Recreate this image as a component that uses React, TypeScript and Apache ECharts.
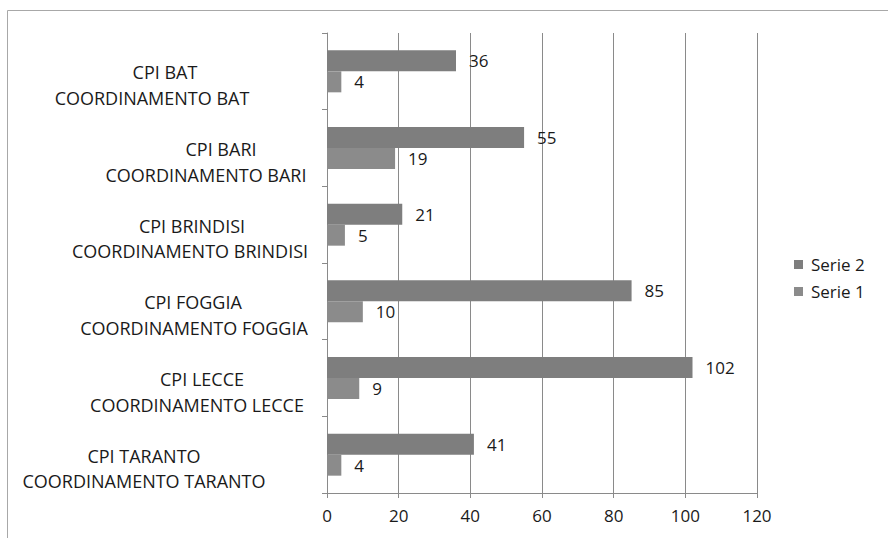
import React, { useEffect, useRef } from "react";
import * as echarts from "echarts";

// Categories listed bottom-to-top (ECharts category y axis starts at the bottom)
const categories: string[] = [
  "CPI TARANTO\nCOORDINAMENTO TARANTO",
  "CPI LECCE\nCOORDINAMENTO LECCE",
  "CPI FOGGIA\nCOORDINAMENTO FOGGIA",
  "CPI BRINDISI\nCOORDINAMENTO BRINDISI",
  "CPI BARI\nCOORDINAMENTO BARI",
  "CPI BAT\nCOORDINAMENTO BAT",
];
const serie1: number[] = [4, 9, 10, 5, 19, 4];
const serie2: number[] = [41, 102, 85, 21, 55, 36];
const seriesNames: string[] = ["Serie 1", "Serie 2"];
const xTicks: number[] = [0, 20, 40, 60, 80, 100, 120];

// styling: right padding of each label line (shifts the centred line left)
const linePad: [number, number][] = [
  [172, 172],
  [56, 66],
  [74, 72],
  [76, 80],
  [18, 48],
  [130, 156],
];

const FONT = "'Open Sans', 'Noto Sans', sans-serif";
const TXT = "#1a1a1a";

export default function App() {
  const ref = useRef<HTMLDivElement>(null);
  useEffect(() => {
    if (!ref.current) return;
    const chart = echarts.init(ref.current, undefined, { renderer: "svg" });
    const rich: Record<string, any> = {};
    linePad.forEach((p, i) => {
      rich["a" + i] = {
        fontSize: 18,
        fontFamily: FONT,
        color: TXT,
        lineHeight: 2,
        align: "center",
        padding: [0, p[0], 0, 0],
      };
      rich["b" + i] = {
        fontSize: 18,
        fontFamily: FONT,
        color: TXT,
        lineHeight: 49,
        align: "center",
        padding: [0, p[1], 0, 0],
      };
    });
    const barLabel = {
      show: true,
      position: "right",
      distance: 13,
      fontSize: 17,
      fontFamily: FONT,
      color: TXT,
    };
    chart.setOption({
      animation: false,
      backgroundColor: "#ffffff",
      textStyle: { fontFamily: FONT },
      graphic: [
        {
          type: "rect",
          shape: { x: 7.5, y: 10.5, width: 900, height: 600 },
          style: { fill: "none", stroke: "#a8a8a8", lineWidth: 1 },
          silent: true,
        },
      ],
      grid: { left: 327, right: 131, top: 33, bottom: 45, containLabel: false },
      legend: {
        orient: "vertical",
        left: 789,
        top: 251,
        itemWidth: 9,
        itemHeight: 9,
        itemGap: 10,
        icon: "rect",
        data: [seriesNames[1], seriesNames[0]],
        textStyle: { fontSize: 17, fontFamily: FONT, color: TXT, padding: [0, 0, 0, 3] },
      },
      xAxis: {
        type: "value",
        min: xTicks[0],
        max: xTicks[xTicks.length - 1],
        interval: xTicks[1] - xTicks[0],
        axisLine: { show: true, lineStyle: { color: "#8a8a8a", width: 1 } },
        axisTick: { show: true, length: 5, lineStyle: { color: "#8a8a8a" } },
        splitLine: { show: true, lineStyle: { color: "#8a8a8a", width: 1 } },
        axisLabel: { fontSize: 17, fontFamily: FONT, color: TXT, margin: 14 },
      },
      yAxis: {
        type: "category",
        data: categories,
        axisLine: { show: true, lineStyle: { color: "#8a8a8a", width: 1 } },
        axisTick: { show: true, length: 5, lineStyle: { color: "#8a8a8a" } },
        axisLabel: {
          interval: 0,
          align: "center",
          verticalAlign: "top",
          margin: 97,
          formatter: (value: string, index: number) => {
            const [l1, l2] = value.split("\n");
            return `{a${index}|${l1}}\n{b${index}|${l2}}`;
          },
          rich,
        },
      },
      series: [
        {
          name: seriesNames[1],
          type: "bar",
          data: serie2,
          barWidth: 21,
          barGap: "0%",
          itemStyle: { color: "#7e7e7e" },
          label: barLabel,
        },
        {
          name: seriesNames[0],
          type: "bar",
          data: serie1,
          barWidth: 21,
          barGap: "0%",
          itemStyle: { color: "#8b8b8b" },
          label: barLabel,
        },
      ],
    });
    return () => chart.dispose();
  }, []);
  return (
    <div
      ref={ref}
      style={{ position: "fixed", left: 0, top: 0, width: 888, height: 538 }}
    />
  );
}
